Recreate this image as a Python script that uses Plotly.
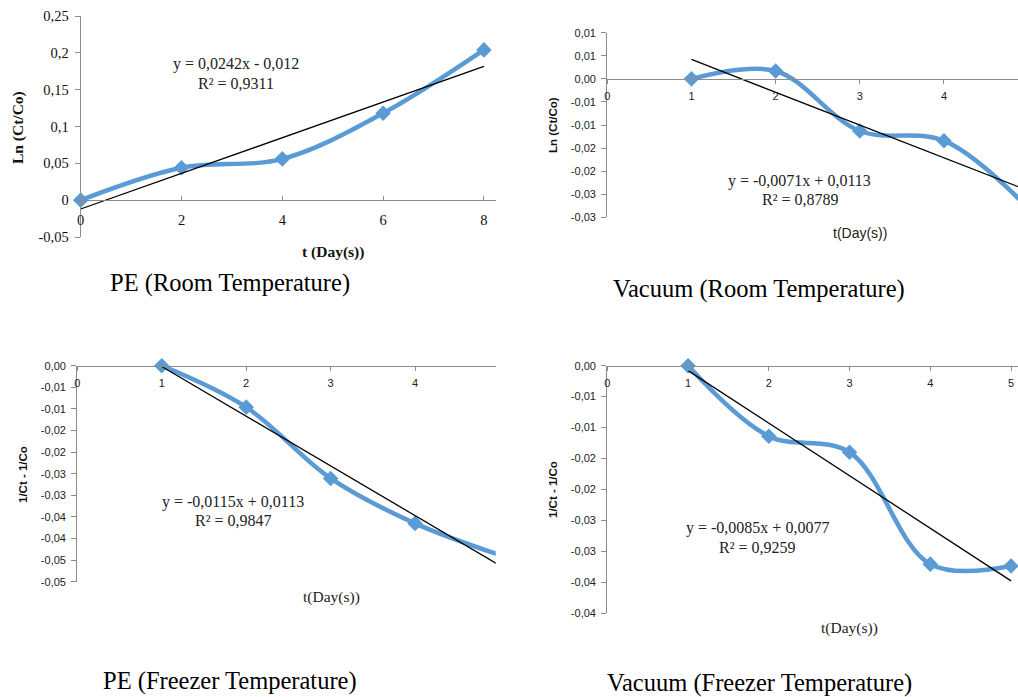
import plotly.graph_objects as go

W, H = 1018, 697
BLUE = "#5B9BD5"
AXC = "#8C8C8C"
SERIF = "Liberation Serif, Times New Roman, serif"
SANS = "Liberation Sans, Arial, sans-serif"

# ---------------- data ----------------
# PE (Room Temperature)
pe_room_t = [0, 2, 4, 6, 8]
pe_room_y = [0.0, 0.044, 0.056, 0.118, 0.204]
pe_room_fit = (0.0242, -0.012)
pe_room_eq = ["y = 0,0242x - 0,012", "R² = 0,9311"]
pe_room_yticks = [-0.05, 0.0, 0.05, 0.10, 0.15, 0.20, 0.25]
pe_room_ylabels = ["-0,05", "0", "0,05", "0,1", "0,15", "0,2", "0,25"]
pe_room_xticks = [0, 2, 4, 6, 8]

# Vacuum (Room Temperature)
vac_room_t = [1, 2, 3, 4, 5]
vac_room_y = [0.0, 0.0017, -0.0113, -0.0134, -0.028]
vac_room_fit = (-0.0071, 0.0113)
vac_room_eq = ["y = -0,0071x + 0,0113", "R² = 0,8789"]
vac_room_yticks = [-0.03, -0.025, -0.02, -0.015, -0.01, -0.005, 0.0, 0.005, 0.01]
vac_room_ylabels = ["-0,03", "-0,03", "-0,02", "-0,02", "-0,01", "-0,01", "0,00", "0,01", "0,01"]
vac_room_xticks = [0, 1, 2, 3, 4]

# PE (Freezer Temperature)
pe_frz_t = [1, 2, 3, 4, 5]
pe_frz_y = [0.0, -0.0096, -0.0261, -0.0365, -0.0438]
pe_frz_fit = (-0.0115, 0.0113)
pe_frz_eq = ["y = -0,0115x + 0,0113", "R² = 0,9847"]
pe_frz_yticks = [-0.05, -0.045, -0.04, -0.035, -0.03, -0.025, -0.02, -0.015, -0.01, -0.005, 0.0]
pe_frz_ylabels = ["-0,05", "-0,05", "-0,04", "-0,04", "-0,03", "-0,03", "-0,02", "-0,02", "-0,01", "-0,01", "0,00"]
pe_frz_xticks = [0, 1, 2, 3, 4]

# Vacuum (Freezer Temperature)
vac_frz_t = [1, 2, 3, 4, 5]
vac_frz_y = [0.0, -0.0114, -0.0140, -0.0321, -0.0324]
vac_frz_fit = (-0.0085, 0.0077)
vac_frz_eq = ["y = -0,0085x + 0,0077", "R² = 0,9259"]
vac_frz_yticks = [-0.04, -0.035, -0.03, -0.025, -0.02, -0.015, -0.01, -0.005, 0.0]
vac_frz_ylabels = ["-0,04", "-0,04", "-0,03", "-0,03", "-0,02", "-0,02", "-0,01", "-0,01", "0,00"]
vac_frz_xticks = [0, 1, 2, 3, 4, 5]

captions = ["PE (Room Temperature)", "Vacuum (Room Temperature)",
            "PE (Freezer Temperature)", "Vacuum (Freezer Temperature)"]

# ---------------- layout helpers ----------------
def px_x(p):
    return p / W

def px_y(p):
    return 1 - p / H

panels = [
    dict(t=pe_room_t, y=pe_room_y, fit=pe_room_fit, yt=pe_room_yticks, yl=pe_room_ylabels,
         xt=pe_room_xticks, xr=[0, 8.24], yr=[-0.05, 0.25],
         xdom=[80.7, 496], ydom=[237, 16], tickfont=dict(family=SERIF, size=14.5, color="#111"),
         xtickfont=dict(family=SERIF, size=14.5, color="#111"), xticks="inside", xstand=6, clip=False),
    dict(t=vac_room_t, y=vac_room_y, fit=vac_room_fit, yt=vac_room_yticks, yl=vac_room_ylabels,
         xt=vac_room_xticks, xr=[0, 4.88], yr=[-0.03, 0.01],
         xdom=[607.3, 1018], ydom=[217.3, 32.7], tickfont=dict(family=SANS, size=11, color="#222"),
         xtickfont=dict(family=SANS, size=11, color="#222"), xticks="outside", xstand=3, clip=True),
    dict(t=pe_frz_t, y=pe_frz_y, fit=pe_frz_fit, yt=pe_frz_yticks, yl=pe_frz_ylabels,
         xt=pe_frz_xticks, xr=[0, 4.955], yr=[-0.05, 0.0],
         xdom=[77.3, 495.7], ydom=[581.7, 365.7], tickfont=dict(family=SANS, size=11, color="#222"),
         xtickfont=dict(family=SANS, size=11, color="#222"), xticks="outside", xstand=3, clip=False),
    dict(t=vac_frz_t, y=vac_frz_y, fit=vac_frz_fit, yt=vac_frz_yticks, yl=vac_frz_ylabels,
         xt=vac_frz_xticks, xr=[0, 5.086], yr=[-0.04, 0.0],
         xdom=[607.3, 1018], ydom=[613, 365.7], tickfont=dict(family=SANS, size=11, color="#222"),
         xtickfont=dict(family=SANS, size=11, color="#222"), xticks="outside", xstand=3, clip=False),
]

fig = go.Figure()
layout = {}
for i, p in enumerate(panels, start=1):
    xa = "x" if i == 1 else f"x{i}"
    ya = "y" if i == 1 else f"y{i}"
    xdom = [px_x(p["xdom"][0]), min(1.0, px_x(p["xdom"][1]))]
    ydom = [px_y(p["ydom"][0]), px_y(p["ydom"][1])]
    y0, y1 = p["yr"]
    zero_pos = ydom[0] + (0 - y0) / (y1 - y0) * (ydom[1] - ydom[0])

    a, b = p["fit"]
    fit_x = [p["t"][0], p["t"][-1]]
    fit_y = [a * v + b for v in fit_x]

    fig.add_trace(go.Scatter(x=p["t"], y=p["y"], xaxis=xa, yaxis=ya, mode="lines+markers",
                             line=dict(color=BLUE, width=4.5, shape="spline", smoothing=1.0),
                             marker=dict(symbol="diamond", size=12, color=BLUE),
                             showlegend=False, cliponaxis=p["clip"]))
    fig.add_trace(go.Scatter(x=fit_x, y=fit_y, xaxis=xa, yaxis=ya, mode="lines",
                             line=dict(color="black", width=1.3), showlegend=False))

    layout["xaxis" if i == 1 else f"xaxis{i}"] = dict(
        domain=xdom, range=p["xr"], anchor="free", position=zero_pos, side="bottom",
        showline=True, linecolor=AXC, linewidth=1.3, showgrid=False, zeroline=False,
        tickmode="array", tickvals=p["xt"], ticktext=[str(v) for v in p["xt"]],
        ticks=p["xticks"], ticklen=4, tickcolor=AXC, tickfont=p["xtickfont"],
        ticklabelstandoff=p["xstand"], fixedrange=True, automargin=False)
    layout["yaxis" if i == 1 else f"yaxis{i}"] = dict(
        domain=ydom, range=p["yr"], anchor=xa,
        showline=True, linecolor=AXC, linewidth=1.3, showgrid=False, zeroline=False,
        tickmode="array", tickvals=p["yt"], ticktext=p["yl"],
        ticks="outside", ticklen=5, tickcolor=AXC, tickfont=p["tickfont"],
        ticklabelstandoff=3, fixedrange=True, automargin=False)

annotations = []

def ann(text, x, y, font, angle=0):
    annotations.append(dict(text=text, x=px_x(x), y=px_y(y), xref="paper", yref="paper",
                            xanchor="center", yanchor="middle", showarrow=False,
                            textangle=angle, font=font))

# equations
eq_font = dict(family=SERIF, size=16, color="#222")
ann(pe_room_eq[0], 236, 64, eq_font); ann(pe_room_eq[1], 236, 83, eq_font)
ann(vac_room_eq[0], 799, 181, eq_font); ann(vac_room_eq[1], 800, 200, eq_font)
ann(pe_frz_eq[0], 233, 502, eq_font); ann(pe_frz_eq[1], 233, 520, eq_font)
ann(vac_frz_eq[0], 757, 528, eq_font); ann(vac_frz_eq[1], 757, 547, eq_font)

# axis titles
ann("<b>Ln (Ct/Co)</b>", 18, 128, dict(family=SERIF, size=15.5, color="#111"), -90)
ann("<b>t (Day(s))</b>", 333, 252, dict(family=SERIF, size=15.5, color="#111"))
ann("<b>Ln (Ct/Co)</b>", 553, 125, dict(family=SANS, size=11.5, color="#111"), -90)
ann("t(Day(s))", 860, 233, dict(family=SANS, size=14, color="#222"))
ann("<b>1/Ct - 1/Co</b>", 23, 475, dict(family=SANS, size=11.5, color="#111"), -90)
ann("t(Day(s))", 331, 597, dict(family=SERIF, size=15.5, color="#222"))
ann("<b>1/Ct - 1/Co</b>", 553, 490, dict(family=SANS, size=11.5, color="#111"), -90)
ann("t(Day(s))", 849, 628, dict(family=SERIF, size=15.5, color="#222"))

# captions
cap_font = dict(family=SERIF, size=24.5, color="#000")
ann(captions[0], 230, 283, cap_font)
ann(captions[1], 759, 289, cap_font)
ann(captions[2], 230, 681, cap_font)
ann(captions[3], 759, 683, cap_font)

fig.update_layout(template="none", width=W, height=H, margin=dict(l=0, r=0, t=0, b=0, pad=0),
                  paper_bgcolor="white", plot_bgcolor="white",
                  annotations=annotations, **layout)

fig.write_html("out.html", config={"displayModeBar": False})
